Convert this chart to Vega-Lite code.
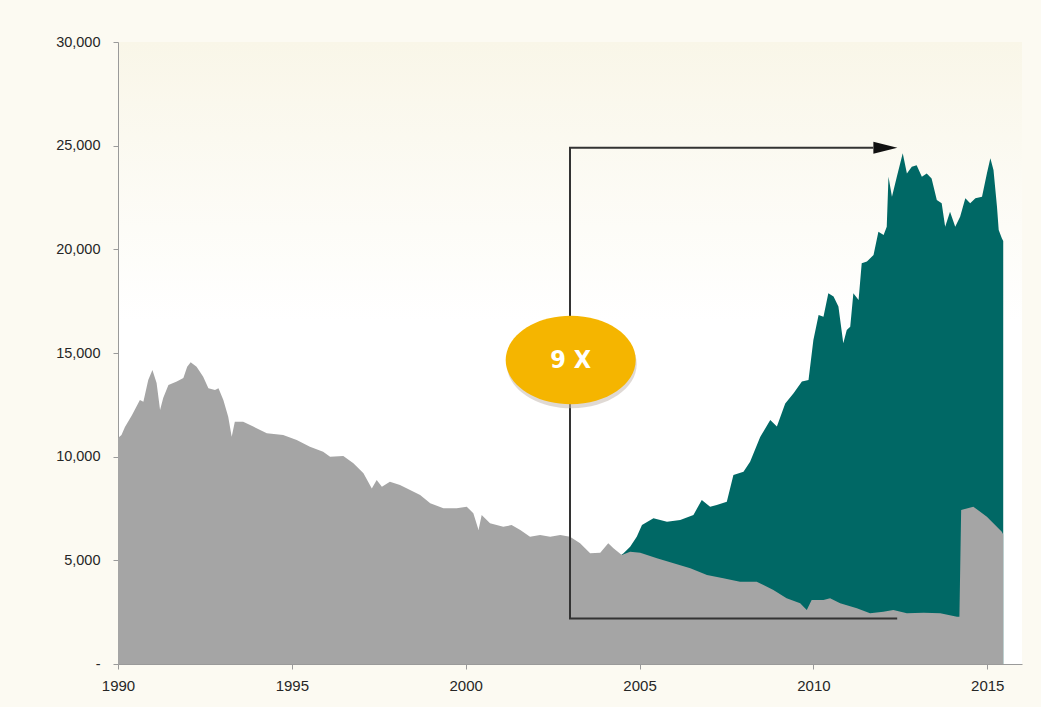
{
  "$schema": "https://vega.github.io/schema/vega-lite/v6.json",
  "width": 904,
  "height": 622,
  "autosize": {"type": "none"},
  "padding": {"left": 118, "top": 42, "right": 19, "bottom": 43},
  "background": "#fcfaf2",
  "config": {
    "view": {"stroke": null, "fill": {"gradient": "linear", "x1": 0, "y1": 0, "x2": 0, "y2": 1, "stops": [{"offset": 0, "color": "#f9f6e8"}, {"offset": 0.45, "color": "#ffffff"}, {"offset": 1, "color": "#ffffff"}]}},
    "axis": {"grid": false, "domainColor": "#9a9a9a", "tickColor": "#9a9a9a", "tickSize": 5, "labelFont": "Liberation Sans", "labelColor": "#262626", "labelFlush": false, "title": null}
  },
  "datasets": {
    "gray": [
      {"year": 1990.0, "value": 10900}, {"year": 1990.1, "value": 11045}, {"year": 1990.2, "value": 11430}, {"year": 1990.4, "value": 12000},
      {"year": 1990.63, "value": 12730}, {"year": 1990.73, "value": 12650}, {"year": 1990.87, "value": 13700}, {"year": 1990.99, "value": 14180},
      {"year": 1991.11, "value": 13550}, {"year": 1991.21, "value": 12250}, {"year": 1991.3, "value": 12830}, {"year": 1991.45, "value": 13460},
      {"year": 1991.69, "value": 13620}, {"year": 1991.88, "value": 13790}, {"year": 1991.99, "value": 14340}, {"year": 1992.09, "value": 14550},
      {"year": 1992.26, "value": 14340}, {"year": 1992.45, "value": 13860}, {"year": 1992.6, "value": 13300}, {"year": 1992.79, "value": 13215},
      {"year": 1992.89, "value": 13300}, {"year": 1993.03, "value": 12730}, {"year": 1993.17, "value": 11930}, {"year": 1993.27, "value": 10960},
      {"year": 1993.36, "value": 11690}, {"year": 1993.6, "value": 11690}, {"year": 1993.89, "value": 11450}, {"year": 1994.28, "value": 11130},
      {"year": 1994.75, "value": 11045}, {"year": 1995.14, "value": 10800}, {"year": 1995.52, "value": 10480}, {"year": 1995.9, "value": 10240},
      {"year": 1996.1, "value": 10000}, {"year": 1996.48, "value": 10030}, {"year": 1996.77, "value": 9680}, {"year": 1997.06, "value": 9200},
      {"year": 1997.3, "value": 8470}, {"year": 1997.44, "value": 8870}, {"year": 1997.59, "value": 8550}, {"year": 1997.82, "value": 8790},
      {"year": 1998.11, "value": 8630}, {"year": 1998.4, "value": 8390}, {"year": 1998.69, "value": 8150}, {"year": 1998.98, "value": 7750},
      {"year": 1999.36, "value": 7510}, {"year": 1999.74, "value": 7510}, {"year": 2000.03, "value": 7590}, {"year": 2000.22, "value": 7270},
      {"year": 2000.37, "value": 6460}, {"year": 2000.46, "value": 7190}, {"year": 2000.7, "value": 6790}, {"year": 2001.08, "value": 6620},
      {"year": 2001.32, "value": 6700}, {"year": 2001.57, "value": 6460}, {"year": 2001.85, "value": 6140}, {"year": 2002.14, "value": 6220},
      {"year": 2002.43, "value": 6140}, {"year": 2002.72, "value": 6220}, {"year": 2003.0, "value": 6140}, {"year": 2003.29, "value": 5820},
      {"year": 2003.58, "value": 5340}, {"year": 2003.87, "value": 5370}, {"year": 2004.1, "value": 5820}, {"year": 2004.25, "value": 5580},
      {"year": 2004.49, "value": 5260}, {"year": 2004.73, "value": 5420}, {"year": 2005.02, "value": 5370}, {"year": 2005.5, "value": 5100},
      {"year": 2005.98, "value": 4860}, {"year": 2006.46, "value": 4620}, {"year": 2006.94, "value": 4290}, {"year": 2007.41, "value": 4130},
      {"year": 2007.89, "value": 3970}, {"year": 2008.37, "value": 3970}, {"year": 2008.85, "value": 3570}, {"year": 2009.23, "value": 3170},
      {"year": 2009.62, "value": 2930}, {"year": 2009.81, "value": 2600}, {"year": 2009.95, "value": 3090}, {"year": 2010.29, "value": 3090},
      {"year": 2010.48, "value": 3170}, {"year": 2010.77, "value": 2930}, {"year": 2011.25, "value": 2690}, {"year": 2011.63, "value": 2450},
      {"year": 2012.01, "value": 2520}, {"year": 2012.3, "value": 2600}, {"year": 2012.69, "value": 2450}, {"year": 2013.17, "value": 2470},
      {"year": 2013.65, "value": 2450}, {"year": 2014.13, "value": 2280}, {"year": 2014.2, "value": 2280}, {"year": 2014.25, "value": 7430},
      {"year": 2014.6, "value": 7590}, {"year": 2014.99, "value": 7100}, {"year": 2015.42, "value": 6380}, {"year": 2015.46, "value": 6250}
    ],
    "teal": [
      {"year": 2004.47, "value": 5260}, {"year": 2004.54, "value": 5340}, {"year": 2004.73, "value": 5660}, {"year": 2004.92, "value": 6140},
      {"year": 2005.07, "value": 6700}, {"year": 2005.4, "value": 7030}, {"year": 2005.79, "value": 6860}, {"year": 2006.17, "value": 6950},
      {"year": 2006.55, "value": 7190}, {"year": 2006.79, "value": 7910}, {"year": 2007.03, "value": 7590}, {"year": 2007.22, "value": 7670},
      {"year": 2007.51, "value": 7830}, {"year": 2007.7, "value": 9115}, {"year": 2007.99, "value": 9275}, {"year": 2008.18, "value": 9760},
      {"year": 2008.47, "value": 10950}, {"year": 2008.76, "value": 11770}, {"year": 2008.95, "value": 11450}, {"year": 2009.19, "value": 12570},
      {"year": 2009.43, "value": 13060}, {"year": 2009.67, "value": 13620}, {"year": 2009.86, "value": 13700}, {"year": 2010.0, "value": 15630},
      {"year": 2010.15, "value": 16830}, {"year": 2010.29, "value": 16750}, {"year": 2010.43, "value": 17880}, {"year": 2010.58, "value": 17720},
      {"year": 2010.72, "value": 17240}, {"year": 2010.86, "value": 15470}, {"year": 2010.96, "value": 16110}, {"year": 2011.06, "value": 16270},
      {"year": 2011.15, "value": 17880}, {"year": 2011.3, "value": 17560}, {"year": 2011.39, "value": 19330}, {"year": 2011.54, "value": 19410},
      {"year": 2011.73, "value": 19730}, {"year": 2011.87, "value": 20850}, {"year": 2012.02, "value": 20690}, {"year": 2012.11, "value": 21090},
      {"year": 2012.16, "value": 23500}, {"year": 2012.26, "value": 22540}, {"year": 2012.4, "value": 23500}, {"year": 2012.57, "value": 24630},
      {"year": 2012.69, "value": 23660}, {"year": 2012.83, "value": 23980}, {"year": 2012.97, "value": 24060}, {"year": 2013.12, "value": 23500},
      {"year": 2013.26, "value": 23660}, {"year": 2013.4, "value": 23420}, {"year": 2013.55, "value": 22380}, {"year": 2013.69, "value": 22220},
      {"year": 2013.79, "value": 21090}, {"year": 2013.93, "value": 21810}, {"year": 2014.08, "value": 21090}, {"year": 2014.22, "value": 21570},
      {"year": 2014.37, "value": 22460}, {"year": 2014.51, "value": 22220}, {"year": 2014.66, "value": 22460}, {"year": 2014.85, "value": 22540},
      {"year": 2014.99, "value": 23660}, {"year": 2015.09, "value": 24390}, {"year": 2015.18, "value": 23830}, {"year": 2015.28, "value": 22060},
      {"year": 2015.33, "value": 20930}, {"year": 2015.42, "value": 20530}, {"year": 2015.46, "value": 20400}
    ],
    "arrow": [
      {"year": 2012.41, "value": 2200, "step": 1},
      {"year": 2003.0, "value": 2200, "step": 2},
      {"year": 2003.0, "value": 24900, "step": 3},
      {"year": 2011.72, "value": 24900, "step": 4}
    ],
    "head": [{"year": 2012.07, "value": 24900}],
    "bubble": [{"year": 2003.02, "value": 14660, "label": "9 X"}]
  },
  "layer": [
    {
      "data": {"name": "teal"},
      "mark": {"type": "area", "color": "#006865", "interpolate": "linear"},
      "encoding": {
        "x": {"field": "year", "type": "quantitative", "scale": {"domain": [1990, 2016], "nice": false, "zero": false},
          "axis": {"values": [1990, 1995, 2000, 2005, 2010, 2015], "format": "d", "labelFontSize": 15, "labelPadding": 9}},
        "y": {"field": "value", "type": "quantitative", "scale": {"domain": [0, 30000], "nice": false},
          "axis": {"values": [0, 5000, 10000, 15000, 20000, 25000, 30000], "labelExpr": "datum.value == 0 ? '-' : format(datum.value, ',')", "labelFontSize": 14.5, "labelPadding": 13}}
      }
    },
    {
      "data": {"name": "gray"},
      "mark": {"type": "area", "color": "#a5a5a5", "interpolate": "linear"},
      "encoding": {
        "x": {"field": "year", "type": "quantitative"},
        "y": {"field": "value", "type": "quantitative"}
      }
    },
    {
      "data": {"name": "arrow"},
      "mark": {"type": "line", "color": "#333333", "strokeWidth": 2},
      "encoding": {
        "x": {"field": "year", "type": "quantitative"},
        "y": {"field": "value", "type": "quantitative"},
        "order": {"field": "step", "type": "quantitative"}
      }
    },
    {
      "data": {"name": "head"},
      "mark": {"type": "point", "shape": "M -1 -0.5 L 1 0 L -1 0.5 Z", "size": 576, "filled": true, "color": "#111111", "opacity": 1},
      "encoding": {
        "x": {"field": "year", "type": "quantitative"},
        "y": {"field": "value", "type": "quantitative"}
      }
    },
    {
      "data": {"name": "bubble"},
      "mark": {"type": "point", "shape": "M -1 0 A 1 0.68 0 1 0 1 0 A 1 0.68 0 1 0 -1 0 Z", "size": 16900, "filled": true, "color": "#c4bab0", "opacity": 0.55, "xOffset": 1, "yOffset": 4},
      "encoding": {
        "x": {"field": "year", "type": "quantitative"},
        "y": {"field": "value", "type": "quantitative"}
      }
    },
    {
      "data": {"name": "bubble"},
      "mark": {"type": "point", "shape": "M -1 0 A 1 0.68 0 1 0 1 0 A 1 0.68 0 1 0 -1 0 Z", "size": 16900, "filled": true, "color": "#f5b500", "opacity": 1},
      "encoding": {
        "x": {"field": "year", "type": "quantitative"},
        "y": {"field": "value", "type": "quantitative"}
      }
    },
    {
      "data": {"name": "bubble"},
      "mark": {"type": "text", "font": "DejaVu Sans Condensed, Liberation Sans, sans-serif", "fontWeight": "bold", "fontSize": 25, "color": "#ffffff", "align": "center", "baseline": "middle"},
      "encoding": {
        "x": {"field": "year", "type": "quantitative"},
        "y": {"field": "value", "type": "quantitative"},
        "text": {"field": "label"}
      }
    }
  ]
}
